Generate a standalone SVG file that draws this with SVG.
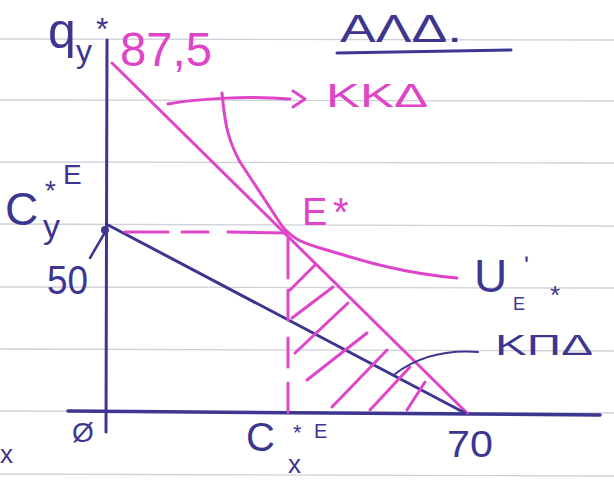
<svg xmlns="http://www.w3.org/2000/svg" width="614" height="485" viewBox="0 0 614 485">
<style>
.paper{stroke:#cfd0d8;stroke-width:1.4;fill:none}
.pk{stroke:#df45c8;stroke-width:3;fill:none;stroke-linecap:round;stroke-linejoin:round}
.nv{stroke:#3d3690;stroke-width:3;fill:none;stroke-linecap:round;stroke-linejoin:round}
.tp{fill:#df45c8;font-family:"Liberation Sans","DejaVu Sans",sans-serif}
.tn{fill:#3d3690;font-family:"Liberation Sans","DejaVu Sans",sans-serif}
</style>
<rect width="614" height="485" fill="#ffffff"/>
<g id="paper">
<line class="paper" x1="0" y1="39" x2="614" y2="40"/>
<line class="paper" x1="0" y1="100" x2="614" y2="101"/>
<line class="paper" x1="0" y1="162" x2="614" y2="163"/>
<line class="paper" x1="0" y1="224" x2="614" y2="226"/>
<line class="paper" x1="0" y1="287" x2="614" y2="288"/>
<line class="paper" x1="0" y1="349" x2="614" y2="351"/>
<line class="paper" x1="0" y1="411" x2="614" y2="413"/>
<line class="paper" x1="0" y1="474" x2="614" y2="476"/>
</g>
<g id="connectors">
<line class="nv" x1="107" y1="40" x2="106" y2="432"/>
<line class="nv" x1="68" y1="411" x2="600" y2="415" style="stroke-width:3.5"/>
<line class="pk" x1="112" y1="63" x2="467" y2="413"/>
<line class="nv" x1="108" y1="225" x2="465" y2="413"/>
<path class="pk" d="M222 93 C225 125 228 140 240 162 L282 226 C292 238 300 242 320 248 C360 260 400 273 457 278"/>
<path class="pk" d="M168 104 C200 98 250 96 290 99"/>
<path class="pk" d="M293 91 L305 99 L293 107"/>
<g id="dashes">
<line class="pk" x1="125" y1="232" x2="168" y2="232"/>
<line class="pk" x1="182" y1="232" x2="208" y2="232"/>
<line class="pk" x1="228" y1="232" x2="287" y2="233"/>
<line class="pk" x1="288" y1="238" x2="288" y2="278"/>
<line class="pk" x1="288" y1="290" x2="288" y2="320"/>
<line class="pk" x1="288" y1="338" x2="288" y2="367"/>
<line class="pk" x1="288" y1="383" x2="288" y2="412"/>
</g>
<g id="hatching">
<line class="pk" x1="290" y1="290" x2="315" y2="265"/>
<line class="pk" x1="292" y1="318" x2="333" y2="287"/>
<line class="pk" x1="295" y1="353" x2="348" y2="303"/>
<line class="pk" x1="307" y1="380" x2="367" y2="333"/>
<line class="pk" x1="332" y1="407" x2="387" y2="350"/>
<line class="pk" x1="370" y1="410" x2="410" y2="367"/>
<line class="pk" x1="407" y1="410" x2="425" y2="382"/>
</g>
<path class="nv" d="M395 374 C420 355 450 350 478 352" style="stroke-width:2"/>
<path class="nv" d="M90 258 L104 234" style="stroke-width:2.5"/>
<circle cx="105" cy="230" r="4" fill="#3d3690"/>
<path class="nv" d="M337 53 L511 50"/>
</g>
<g id="title"><text class="tn" x="340" y="42" font-size="38" textLength="122" lengthAdjust="spacingAndGlyphs">ΑΛΔ.</text></g>
<g id="label-kkd"><text class="tp" x="326" y="107" font-size="33" textLength="102" lengthAdjust="spacingAndGlyphs">ΚΚΔ</text></g>
<g id="label-875"><text class="tp" x="120" y="66" font-size="48" textLength="92" lengthAdjust="spacingAndGlyphs">87,5</text></g>
<g id="label-qy"><text class="tn" x="48" y="48" font-size="50">q</text><text class="tn" x="76" y="62" font-size="32">y</text><text class="tn" x="96" y="40" font-size="32">*</text></g>
<g id="label-cy"><text class="tn" x="5" y="225" font-size="46">C</text><text class="tn" x="45" y="200" font-size="28">*</text><text class="tn" x="63" y="184" font-size="28">E</text><text class="tn" x="43" y="238" font-size="34">y</text></g>
<g id="label-50"><text class="tn" x="47" y="294" font-size="40" textLength="41" lengthAdjust="spacingAndGlyphs">50</text></g>
<g id="label-estar"><text class="tp" x="302" y="225" font-size="38">E</text><text class="tp" x="333" y="226" font-size="40">*</text></g>
<g id="label-u"><text class="tn" x="474" y="292" font-size="46">U</text><text class="tn" x="524" y="274" font-size="26">ʹ</text><text class="tn" x="513" y="310" font-size="18">E</text><text class="tn" x="550" y="304" font-size="26">*</text></g>
<g id="label-kpd"><text class="tn" x="495" y="355" font-size="30" textLength="98" lengthAdjust="spacingAndGlyphs">ΚΠΔ</text></g>
<g id="label-70"><text class="tn" x="447" y="457" font-size="36" textLength="46" lengthAdjust="spacingAndGlyphs">70</text></g>
<g id="label-cx"><text class="tn" x="246" y="451" font-size="40">C</text><text class="tn" x="293" y="440" font-size="22">*</text><text class="tn" x="314" y="438" font-size="20">E</text><text class="tn" x="288" y="473" font-size="26">x</text></g>
<g id="label-origin"><text class="tn" x="72" y="442" font-size="28">Ø</text></g>
<g id="label-x"><text class="tn" x="0" y="463" font-size="26">x</text></g>
</svg>
